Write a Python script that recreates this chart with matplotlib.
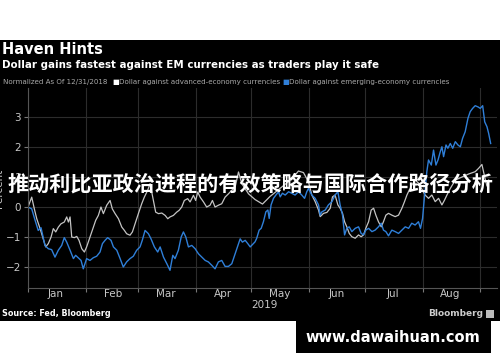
import matplotlib
matplotlib.use("Agg")
import matplotlib.pyplot as plt
import matplotlib.dates as mdates
from matplotlib.patches import Rectangle
import pandas as pd

# days since 2019-01-01, values in percent (normalized to 12/31/2018)
em_days = [0, 2, 3.8, 5.5, 7, 7.7, 9.1, 10.9, 12.7, 14.5, 16.3, 18.1, 19.5, 20.8, 22.6, 24.4, 25.6, 27, 28.5, 29.7,
           31.5, 33.3, 35.1, 36.9, 38.7, 40, 41.4, 42.8, 44.6, 45.9, 47.7, 49.5, 51.2, 53, 54.8, 56.6, 58.4, 60.2, 61.4,
           62.9, 64.7, 66.1, 67.9, 69.7, 71, 72.8, 74.6, 76.3, 77.8, 79, 80.8, 82.3, 83.5, 84.8, 86.2, 88, 89.8, 91.6,
           93.4, 95.2, 96.9, 98.7, 100.5, 102.3, 104.1, 105.9, 107.7, 109.5, 111.3, 113.1, 114, 115.2, 116.7, 118.1,
           119.4, 122.0, 122.9, 124.2, 125.3, 126.5, 127.8, 128.9, 129.6, 130.6, 131.9, 133.2, 134.6, 135.5, 136.7,
           138.2, 140.0, 141.7, 143.5, 145.3, 147.1, 148.6, 149.8, 150.7, 152.5, 154.3, 156.1, 157.0, 157.9, 159.7,
           161.4, 163.3, 165.0, 166.5, 167.7, 169.0, 170.1, 171.3, 172.6, 174.0, 175.8, 177.6, 179.0, 180.3, 181.5,
           183.0, 184.8, 186.5, 188.3, 189.8, 191.0, 192.3, 193.7, 195.5, 197.3, 199.1, 200.9, 202.7, 204.5, 206.2,
           208.0, 209.8, 210.9, 212.0, 213.1, 214.3, 215.2, 216.7, 217.9, 219.2, 220.3, 221.5, 222.4, 223.3, 224.6,
           225.6, 226.9, 228.2, 229.6, 231.0, 232.3, 233.5, 234.9, 236.4, 237.6, 238.9, 240.3, 241.8, 243.0, 244.3,
           245.4, 246.6, 247.5, 248.6]
em_vals = [0.0, -0.06, -0.44, -0.78, -0.69, -0.89, -1.28, -1.39, -1.42, -1.67, -1.44, -1.28, -1.02, -1.17, -1.44,
           -1.72, -1.61, -1.69, -1.78, -2.06, -1.72, -1.78, -1.69, -1.64, -1.5, -1.22, -1.11, -1.02, -1.11, -1.33,
           -1.44, -1.72, -2.0, -1.83, -1.72, -1.64, -1.44, -1.33, -1.11, -0.78, -0.89, -1.06, -1.33, -1.5, -1.33,
           -1.67, -1.89, -2.11, -1.61, -1.72, -1.44, -1.0, -0.83, -1.0, -1.33, -1.28, -1.39, -1.56, -1.67, -1.78,
           -1.83, -1.94, -2.06, -1.83, -1.78, -1.98, -1.98, -1.89, -1.56, -1.22, -1.06, -1.17, -1.11, -1.22, -1.33,
           -1.16, -1.04, -0.77, -0.71, -0.49, -0.16, -0.10, -0.38, 0.07, 0.29, 0.40, 0.51, 0.34, 0.46, 0.40, 0.51,
           0.46, 0.40, 0.51, 0.40, 0.29, 0.51, 0.62, 0.40, 0.29, 0.07, -0.27, -0.16, -0.10, 0.07, 0.18, 0.40, 0.51,
           0.07, -0.27, -0.93, -0.71, -0.66, -0.82, -0.71, -0.66, -0.88, -0.93, -0.77, -0.71, -0.82, -0.77, -0.66,
           -0.54, -0.77, -0.82, -0.96, -0.77, -0.82, -0.88, -0.77, -0.66, -0.71, -0.54, -0.60, -0.49, -0.71, -0.38,
           0.40, 1.18, 1.57, 1.40, 1.90, 1.40, 1.57, 1.84, 2.01, 1.68, 2.07, 1.96, 2.12, 1.96, 2.18, 2.07, 2.01,
           2.29, 2.51, 2.96, 3.18, 3.29, 3.38, 3.34, 3.29, 3.38, 2.84, 2.68, 2.46, 2.12]

adv_days = [0, 2.0, 3.4, 4.7, 6.5, 8.2, 9.5, 10.9, 12.4, 13.6, 14.9, 16.3, 17.7, 19.5, 20.8, 21.7, 22.6, 23.5, 24.9,
            26.2, 27.4, 28.9, 30.3, 31.5, 33.3, 35.1, 36.4, 37.8, 39.2, 40.5, 42.3, 44.1, 45.3, 46.8, 48.6, 50.4, 51.8,
            53.0, 54.8, 56.1, 57.5, 59.3, 61.1, 62.5, 64.3, 65.6, 67.4, 68.6, 70.1, 71.9, 73.7, 75.1, 76.3, 78.1, 79.9,
            81.2, 82.6, 84.0, 85.8, 87.1, 88.9, 90.1, 91.2, 92.5, 94.3, 96.0, 97.8, 99.1, 100.5, 102.3, 104.1, 105.9,
            107.7, 109.5, 111.3, 113.1, 114.9, 116.7, 118.5, 122, 126, 130, 134, 138, 142, 145.3, 148.0, 150.7,
            152.5, 154.3, 156.1, 157.0, 158.8, 160.6, 162.4, 163.6, 165.0, 166.5, 167.7, 169.0, 170.1, 171.3, 172.6,
            174.0, 175.8, 177.6, 179.0, 180.3, 181.5, 183.0, 184.4, 185.7, 186.9, 188.3, 189.8, 191.0, 192.3, 193.7,
            195.5, 197.3, 199.1, 200.9, 202.3, 203.6, 204.8, 206.2, 208.0, 209.8, 211.6, 213.4, 215.2, 217.0, 218.8,
            220.6, 222.4, 223.8, 225.1, 226.9, 229.6, 233.1, 236.7, 240.3, 242.1, 243.9, 245.4, 246.6, 247.5]
adv_vals = [0.0, 0.33, -0.06, -0.39, -0.72, -1.06, -1.33, -1.22, -1.0, -0.72, -0.83, -0.67, -0.56, -0.5, -0.33,
            -0.5, -0.33, -1.0, -1.02, -0.98, -1.11, -1.39, -1.5, -1.33, -1.0, -0.67, -0.44, -0.28, 0.0, -0.22, 0.06,
            0.22, -0.06, -0.22, -0.39, -0.67, -0.78, -0.89, -0.94, -0.83, -0.56, -0.22, 0.11, 0.33, 0.56, 0.78, 0.22,
            -0.17, -0.22, -0.2, -0.28, -0.39, -0.33, -0.28, -0.17, -0.11, 0.0, 0.22, 0.28, 0.17, 0.39, 0.22, 0.5,
            0.33, 0.17, 0.0, 0.06, 0.22, 0.0, 0.06, 0.11, 0.33, 0.44, 0.56, 0.67, 1.17, 0.78, 0.61, 0.44, 0.25, 0.1,
            0.35, 0.55, 0.75, 0.95, 1.2, 1.15, 0.84, 0.4, 0.18, -0.1, -0.32, -0.21, -0.18, -0.04, 0.34, 0.40, 0.07,
            -0.04, -0.21, -0.49, -0.66, -0.88, -0.99, -1.04, -0.93, -0.99, -0.93, -0.71, -0.49, -0.10, -0.04, -0.27,
            -0.49, -0.66, -0.49, -0.27, -0.21, -0.27, -0.32, -0.27, -0.04, 0.18, 0.40, 0.56, 0.73, 0.9, 0.8, 0.6,
            0.40, 0.29, 0.40, 0.18, 0.29, 0.07, 0.23, 0.40, 0.62, 0.9, 1.0, 1.1, 1.18, 1.29, 1.42, 1.0, 0.7, 0.9]

y_ticks = [-2, -1, 0, 1, 2, 3]
title = "Haven Hints"
subtitle = "Dollar gains fastest against EM currencies as traders play it safe"
overlay = "推动利比亚政治进程的有效策略与国际合作路径分析"

start = pd.Timestamp("2019-01-01")
em_dates = start + pd.to_timedelta(em_days, unit="D")
adv_dates = start + pd.to_timedelta(adv_days, unit="D")

W, H = 500, 362
fig = plt.figure(figsize=(W / 100, H / 100), dpi=100, facecolor="white")


def fx(x):
    return x / W


def fy(y):
    return 1 - y / H


# black chart panel and watermark box (behind the axes)
fig.patches.append(Rectangle((0, fy(321)), 1, (321 - 40) / H, transform=fig.transFigure,
                             facecolor="black", edgecolor="none", zorder=-5))
fig.patches.append(Rectangle((fx(296), fy(353)), (491 - 296) / W, (353 - 321) / H, transform=fig.transFigure,
                             facecolor="black", edgecolor="none", zorder=-5))

ax = fig.add_axes([fx(28), fy(288), (497 - 28) / W, (288 - 88) / H])
ax.set_facecolor("black")
ax.plot(adv_dates, adv_vals, color="#c4c4c4", lw=0.9)
ax.plot(em_dates, em_vals, color="#2f7fd8", lw=1.0)

ax.set_ylim(-2.7, 3.97)
ax.set_xlim(start, start + pd.Timedelta(days=252))
ax.set_yticks(y_ticks)
ax.xaxis.set_major_locator(mdates.MonthLocator())
ax.xaxis.set_major_formatter(plt.NullFormatter())
ax.xaxis.set_minor_locator(mdates.MonthLocator(bymonthday=16))
ax.xaxis.set_minor_formatter(mdates.DateFormatter("%b"))
ax.tick_params(axis="x", which="minor", length=0, labelsize=7.5, labelcolor="#c8c8c8", pad=0.5)
ax.tick_params(axis="x", which="major", length=3, color="#777777")
ax.tick_params(axis="y", length=3, color="#777777", labelsize=7.5, labelcolor="#c8c8c8", pad=2)
ax.grid(True, which="major", color="#2c2c2c", lw=0.8)
for s in ["top", "right"]:
    ax.spines[s].set_visible(False)
for s in ["left", "bottom"]:
    ax.spines[s].set_color("#555555")
    ax.spines[s].set_linewidth(0.8)
ax.set_ylabel("Percent", color="#c8c8c8", fontsize=7.5, labelpad=1)

fig.text(fx(264), fy(305), "2019", color="#c8c8c8", fontsize=7.5, ha="center", va="center")

# header
fig.text(fx(2), fy(50), title, color="white", fontsize=10.5, fontweight="bold", va="center")
fig.text(fx(2), fy(65), subtitle, color="white", fontsize=7.4, fontweight="bold", va="center")
fig.text(fx(3), fy(82), "Normalized As Of 12/31/2018", color="#aaaaaa", fontsize=5.1, va="center")
fig.text(fx(112), fy(82), "■", color="white", fontsize=5.1, va="center")
fig.text(fx(119), fy(82), "Dollar against advanced-economy currencies", color="#aaaaaa", fontsize=5.1, va="center")
fig.text(fx(282), fy(82), "■", color="#2f7fd8", fontsize=5.1, va="center")
fig.text(fx(289), fy(82), "Dollar against emerging-economy currencies", color="#aaaaaa", fontsize=5.1, va="center")

# footer
fig.text(fx(2), fy(314), "Source: Fed, Bloomberg", color="white", fontsize=5.8, fontweight="bold", va="center")
fig.text(fx(483), fy(314), "Bloomberg", color="#cccccc", fontsize=6.5, fontweight="bold", va="center", ha="right")
fig.patches.append(Rectangle((fx(486), fy(318)), 8 / W, 8 / H, transform=fig.transFigure,
                             facecolor="#bbbbbb", edgecolor="none"))

fig.text(fx(393), fy(337), "www.dawaihuan.com", color="white", fontsize=10.5, fontweight="bold",
         ha="center", va="center")

fig.text(0.5, fy(184), overlay, color="white", fontsize=15.2, fontweight="bold",
         family=["Noto Sans CJK SC", "DejaVu Sans"], ha="center", va="center")

fig.savefig("out.png", dpi=100, facecolor="white")
